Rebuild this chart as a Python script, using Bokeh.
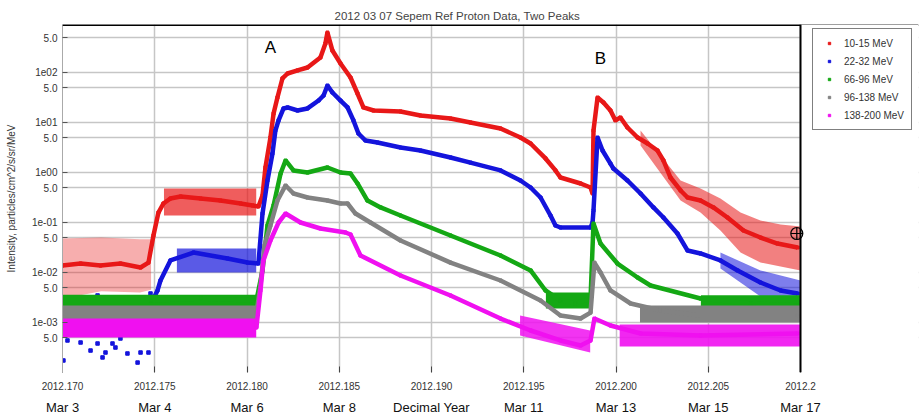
from bokeh.plotting import figure
from bokeh.models import (Range1d, FixedTicker, LinearAxis, Legend, LegendItem, Title,
                          Span, BoxAnnotation)
from bokeh.core.properties import value
from bokeh.embed import file_html
from bokeh.resources import INLINE

FONT = "Liberation Sans"

# ---------------- data (decimal year, intensity) ----------------
t_red = [2012.17000, 2012.17098, 2012.17206, 2012.17314, 2012.17423, 2012.17466, 2012.17493,
         2012.17520, 2012.17547, 2012.17585, 2012.17640, 2012.17748, 2012.17856, 2012.17965,
         2012.18030, 2012.18062, 2012.18084, 2012.18100, 2012.18127, 2012.18144, 2012.18165,
         2012.18192, 2012.18220, 2012.18274, 2012.18328, 2012.18398, 2012.18425, 2012.18436,
         2012.18463, 2012.18507, 2012.18561, 2012.18599, 2012.18631, 2012.18686, 2012.18832,
         2012.18940, 2012.19103, 2012.19211, 2012.19374, 2012.19482, 2012.19537, 2012.19618,
         2012.19672, 2012.19699, 2012.19808, 2012.19862, 2012.19873, 2012.19878, 2012.19900,
         2012.19932, 2012.19970, 2012.19997, 2012.20024, 2012.20062, 2012.20117, 2012.20171,
         2012.20225, 2012.20257, 2012.20295, 2012.20350, 2012.20388, 2012.20458, 2012.20528,
         2012.20604, 2012.20691, 2012.20783, 2012.20875, 2012.20984]
v_red = [0.0138, 0.0151, 0.0138, 0.0151, 0.0126, 0.0158, 0.055,
         0.158, 0.240, 0.302, 0.331, 0.302, 0.275, 0.240,
         0.219, 0.209, 0.347, 1.26, 5.01, 15.1, 31.6,
         75.9, 95.5, 110, 126, 200, 380, 631,
         275, 151, 79.4, 38.0, 20.0, 17.4, 16.6,
         13.8, 12.0, 10.0, 7.59, 5.01, 3.80, 1.91,
         1.10, 0.794, 0.603, 0.501, 0.380, 6.92, 31.6,
         25.1, 17.4, 11.0, 12.6, 7.94, 5.01, 3.80,
         2.75, 1.74, 0.794, 0.437, 0.316, 0.275, 0.200,
         0.126, 0.0692, 0.0501, 0.0380, 0.0316]

t_blue = [2012.17000, 2012.17450, 2012.17488, 2012.17515, 2012.17531, 2012.17585, 2012.17710,
          2012.17894, 2012.18003, 2012.18062, 2012.18084, 2012.18111, 2012.18138, 2012.18154,
          2012.18171, 2012.18198, 2012.18220, 2012.18274, 2012.18328, 2012.18388, 2012.18415,
          2012.18436, 2012.18463, 2012.18507, 2012.18545, 2012.18577, 2012.18604, 2012.18642,
          2012.18707, 2012.18832, 2012.18940, 2012.19103, 2012.19211, 2012.19374, 2012.19482,
          2012.19537, 2012.19591, 2012.19645, 2012.19672, 2012.19699, 2012.19862, 2012.19873,
          2012.19878, 2012.19900, 2012.19927, 2012.19970, 2012.19986, 2012.20062, 2012.20133,
          2012.20203, 2012.20257, 2012.20333, 2012.20388, 2012.20458, 2012.20566, 2012.20659,
          2012.20783, 2012.20892, 2012.20984]
v_blue = [0.00100, 0.00100, 0.00275, 0.00437, 0.00692, 0.0174, 0.0251,
          0.0191, 0.0158, 0.0151, 0.151, 0.692, 2.40, 6.92,
          11.0, 19.1, 20.0, 17.4, 19.1, 27.5, 34.7,
          55.0, 39.8, 27.5, 20.0, 11.0, 6.03, 4.37,
          3.98, 3.16, 2.75, 2.00, 1.58, 1.10, 0.692,
          0.501, 0.316, 0.138, 0.0871, 0.0794, 0.0794, 0.100,
          0.174, 5.01, 2.75, 1.51, 1.20, 0.692, 0.380,
          0.200, 0.126, 0.0603, 0.0275, 0.0240, 0.0174, 0.0110,
          0.00631, 0.00437, 0.00380]

t_green = [2012.17000, 2012.17477, 2012.17748, 2012.18051, 2012.18084, 2012.18111, 2012.18144,
           2012.18182, 2012.18209, 2012.18252, 2012.18328, 2012.18436, 2012.18507, 2012.18561,
           2012.18599, 2012.18653, 2012.18724, 2012.18832, 2012.19103, 2012.19374, 2012.19537,
           2012.19618, 2012.19699, 2012.19780, 2012.19862, 2012.19878, 2012.19916, 2012.20008,
           2012.20117, 2012.20187, 2012.20458, 2012.20729, 2012.20984]
v_green = [0.00275, 0.00275, 0.00302, 0.00275, 0.0110, 0.0871, 0.219,
           0.955, 1.74, 1.10, 1.00, 1.26, 1.00, 0.955,
           0.603, 0.275, 0.200, 0.138, 0.0550, 0.0219, 0.0110,
           0.00437, 0.00275, 0.00240, 0.00302, 0.0955, 0.0380, 0.0151,
           0.00794, 0.00550, 0.00302, 0.00240, 0.00219]

t_gray = [2012.17000, 2012.18051, 2012.18073, 2012.18095, 2012.18127, 2012.18165, 2012.18209,
          2012.18252, 2012.18328, 2012.18436, 2012.18507, 2012.18545, 2012.18588, 2012.18669,
          2012.18832, 2012.19103, 2012.19374, 2012.19591, 2012.19699, 2012.19808, 2012.19862,
          2012.19883, 2012.19916, 2012.19970, 2012.20079, 2012.20241, 2012.20458, 2012.20984]
v_gray = [0.00151, 0.00151, 0.00550, 0.0347, 0.0871, 0.275, 0.550,
          0.380, 0.316, 0.275, 0.240, 0.240, 0.151, 0.100,
          0.0437, 0.0158, 0.00692, 0.00275, 0.00138, 0.00120, 0.00158,
          0.0158, 0.0100, 0.00437, 0.00240, 0.00174, 0.00138, 0.00138]

t_mag = [2012.17000, 2012.18051, 2012.18073, 2012.18089, 2012.18127, 2012.18171, 2012.18209,
         2012.18290, 2012.18398, 2012.18534, 2012.18561, 2012.18615, 2012.18832, 2012.19103,
         2012.19374, 2012.19537, 2012.19699, 2012.19808, 2012.19862, 2012.19883, 2012.19970,
         2012.20133, 2012.20458, 2012.20984]
v_mag = [0.000794, 0.000794, 0.00437, 0.0174, 0.0437, 0.100, 0.151,
         0.100, 0.0759, 0.0631, 0.0575, 0.0219, 0.00871, 0.00347,
         0.00120, 0.000692, 0.000437, 0.000347, 0.000437, 0.00120, 0.000871,
         0.000603, 0.000550, 0.000603]

# noise envelopes (scatter spread)
red_pre_t = [2012.1700, 2012.1721, 2012.1742, 2012.1748]
red_pre_hi = [0.048, 0.050, 0.046, 0.046]
red_pre_lo = [0.0030, 0.0042, 0.0040, 0.0045]
red_plat_t = [2012.1755, 2012.1805]
red_plat_hi = [0.479, 0.479]
red_plat_lo = [0.138, 0.138]
red_tail_t = [2012.20133, 2012.20350, 2012.20458, 2012.20566, 2012.20675, 2012.20783, 2012.20892, 2012.21000]
red_tail_hi = [6.92, 0.692, 0.479, 0.302, 0.158, 0.110, 0.0912, 0.0832]
red_tail_lo = [3.47, 0.275, 0.158, 0.0692, 0.0251, 0.0158, 0.0132, 0.0110]

blue_plat_t = [2012.1762, 2012.1805]
blue_plat_hi = [0.0302, 0.0302]
blue_plat_lo = [0.0100, 0.0100]
blue_tail_t = [2012.20566, 2012.20783, 2012.21000]
blue_tail_hi = [0.0251, 0.0110, 0.00692]
blue_tail_lo = [0.0120, 0.00331, 0.00219]
blue_dots_t = [2012.17005, 2012.17027, 2012.17098, 2012.17152, 2012.17190, 2012.17190, 2012.17217,
               2012.17233, 2012.17271, 2012.17287, 2012.17352, 2012.17407, 2012.17423, 2012.17466,
               2012.17477, 2012.17070, 2012.17314]
blue_dots_v = [0.000174, 0.000437, 0.000398, 0.000275, 0.000380, 0.00347, 0.000200,
               0.000251, 0.000380, 0.000316, 0.000240, 0.000158, 0.000251, 0.000251,
               0.00380, 0.000692, 0.000479]

green_pre_t = [2012.1700, 2012.1805]
green_pre_hi = [0.0036, 0.0036]
green_pre_lo = [0.0021, 0.0021]
green_preb_t = [2012.1962, 2012.1986]
green_preb_hi = [0.0040, 0.0040]
green_preb_lo = [0.0019, 0.0019]
green_tail_t = [2012.2046, 2012.2100]
green_tail_hi = [0.0035, 0.0035]
green_tail_lo = [0.0019, 0.0019]

gray_pre_t = [2012.1700, 2012.1805]
gray_pre_hi = [0.0022, 0.0022]
gray_pre_lo = [0.00105, 0.00105]
gray_tail_t = [2012.2013, 2012.2100]
gray_tail_hi = [0.0022, 0.0022]
gray_tail_lo = [0.00100, 0.00100]

mag_pre_t = [2012.1700, 2012.1805]
mag_pre_hi = [0.00120, 0.00120]
mag_pre_lo = [0.00050, 0.00050]
mag_preb_t = [2012.1948, 2012.1986]
mag_preb_hi = [0.00138, 0.00069]
mag_preb_lo = [0.00055, 0.00025]
mag_tail_t = [2012.2002, 2012.2100]
mag_tail_hi = [0.00091, 0.00091]
mag_tail_lo = [0.00033, 0.00033]

labels = ["10-15 MeV", "22-32 MeV", "66-96 MeV", "96-138 MeV", "138-200 MeV"]
colors = ["#e81818", "#1414dc", "#14a814", "#828282", "#f010f0"]

x_start, x_end = 2012.170, 2012.210
x_ticks = [2012.170, 2012.175, 2012.180, 2012.185, 2012.190, 2012.195, 2012.200, 2012.205, 2012.210]
x_labels = ["2012.170", "2012.175", "2012.180", "2012.185", "2012.190", "2012.195",
            "2012.200", "2012.205", "2012.2"]
date_labels = ["Mar 3", "Mar 4", "Mar 6", "Mar 8", "Decimal Year", "Mar 11", "Mar 13",
               "Mar 15", "Mar 17"]
y_ticks = [500.0, 100.0, 50.0, 10.0, 5.0, 1.0, 0.5, 0.1, 0.05, 0.01, 0.005, 0.001, 0.0005]
y_labels = ["5.0", "1e02", "5.0", "1e01", "5.0", "1e00", "5.0", "1e-01", "5.0", "1e-02",
            "5.0", "1e-03", "5.0"]
y_top = 912.0

peak_x = [2012.18127, 2012.19916]
peak_y = [316.0, 190.0]
peak_text = ["A", "B"]
mark_x = [2012.2098]
mark_y = [0.0603]

# ---------------- figure ----------------
# frame spans the whole width; the area right of x_end is blanked and hosts the legend
FRAME_L, FRAME_R, PX_DATA = 62, 918, 738
span_extra = (x_end - x_start) * (FRAME_R - FRAME_L) / PX_DATA
p = figure(width=920, height=419, title=None,
           x_range=Range1d(x_start, x_start + span_extra), y_range=Range1d(1e-4, y_top),
           y_axis_type="log", output_backend="svg", toolbar_location=None,
           min_border_left=62, min_border_right=2, min_border_top=24, min_border_bottom=47)
p.outline_line_color = None
p.background_fill_color = "white"
p.border_fill_color = "white"

p.xgrid.ticker = FixedTicker(ticks=x_ticks)
p.ygrid.ticker = FixedTicker(ticks=y_ticks)
for g in (p.xgrid[0], p.ygrid[0]):
    g.grid_line_color = "#c6c6c6"
    g.grid_line_width = 1.5
    g.grid_line_alpha = 1.0

# left axis
ya = p.yaxis[0]
ya.ticker = FixedTicker(ticks=y_ticks)
ya.major_label_overrides = dict(zip(y_ticks, y_labels))
ya.minor_tick_line_color = None
ya.major_tick_in = 5
ya.major_tick_out = 0
ya.major_tick_line_color = "#555555"
ya.axis_line_color = "#aaaaaa"
ya.major_label_text_font = FONT
ya.major_label_text_font_size = "10px"
ya.major_label_text_color = "#333333"
ya.major_label_standoff = 5
ya.axis_label = "Intensity, particles/cm^2/s/sr/MeV"
ya.axis_label_text_font = FONT
ya.axis_label_text_font_size = "10px"
ya.axis_label_text_font_style = "normal"
ya.axis_label_text_color = "#333333"
ya.axis_label_standoff = 12

# bottom axis (decimal year)
xa = p.xaxis[0]
xa.ticker = FixedTicker(ticks=x_ticks)
xa.major_label_overrides = dict(zip(x_ticks, x_labels))
xa.minor_tick_line_color = None
xa.major_tick_in = 6
xa.major_tick_out = 0
xa.major_tick_line_color = "#444444"
xa.axis_line_color = None
xa.major_label_text_font = FONT
xa.major_label_text_font_size = "10px"
xa.major_label_text_color = "#333333"
xa.major_label_standoff = 9

# second bottom axis (dates, with the axis title in the free slot)
xa2 = LinearAxis(ticker=FixedTicker(ticks=x_ticks),
                 major_label_overrides=dict(zip(x_ticks, date_labels)),
                 major_tick_line_color=None, minor_tick_line_color=None,
                 axis_line_color=None, major_label_standoff=1,
                 major_label_text_font=FONT, major_label_text_font_size="13px",
                 major_label_text_color="#111111")
p.add_layout(xa2, "below")

p.add_layout(Title(text="2012 03 07 Sepem Ref Proton Data, Two Peaks", align="left",
                   offset=272, text_font=FONT, text_font_size="11.5px",
                   text_font_style="normal", text_color="#444444", standoff=6), "above")

# ---------------- series ----------------
bands = [
    [(red_pre_t, red_pre_lo, red_pre_hi, 0.35), (red_plat_t, red_plat_lo, red_plat_hi, 0.7),
     (red_tail_t, red_tail_lo, red_tail_hi, 0.55)],
    [(blue_plat_t, blue_plat_lo, blue_plat_hi, 0.7), (blue_tail_t, blue_tail_lo, blue_tail_hi, 0.55)],
    [(green_pre_t, green_pre_lo, green_pre_hi, 1.0), (green_preb_t, green_preb_lo, green_preb_hi, 1.0),
     (green_tail_t, green_tail_lo, green_tail_hi, 1.0)],
    [(gray_pre_t, gray_pre_lo, gray_pre_hi, 1.0), (gray_tail_t, gray_tail_lo, gray_tail_hi, 1.0)],
    [(mag_pre_t, mag_pre_lo, mag_pre_hi, 1.0), (mag_preb_t, mag_preb_lo, mag_preb_hi, 0.85),
     (mag_tail_t, mag_tail_lo, mag_tail_hi, 0.9)],
]
series = [(t_red, v_red), (t_blue, v_blue), (t_green, v_green), (t_gray, v_gray), (t_mag, v_mag)]

items = []
for i, ((t, v), c, lab) in enumerate(zip(series, colors, labels)):
    for bt, blo, bhi, a in bands[i]:
        p.varea(x=bt, y1=blo, y2=bhi, fill_color=c, fill_alpha=a)
    if i == 1:
        p.scatter(blue_dots_t, blue_dots_v, marker="square", size=3.5, color=c)
    p.line(t, v, line_color=c, line_width=4.5)
    r = p.scatter(t, v, marker="square", size=3, color=c)
    items.append(LegendItem(label=lab, renderers=[r]))

p.text(x=peak_x, y=peak_y, text=peak_text, text_font=value(FONT), text_font_size="17px",
       text_align="center", text_baseline="middle", text_color="black")

# frame borders: top (black) and right (black), blank area beyond x_end
p.add_layout(Span(location=y_top, dimension="width", line_color="black", line_width=3))
p.add_layout(BoxAnnotation(left=x_end, fill_color="white", fill_alpha=1.0, line_color=None))
p.add_layout(Span(location=x_end, dimension="height", line_color="black", line_width=2))

p.scatter(mark_x, mark_y, marker="circle_cross", size=12, fill_color=None,
          line_color="black", line_width=1.2, level="overlay")

legend = Legend(items=items, location=(750, 242), border_line_color="black",
                border_line_width=1.2, padding=7, spacing=4, margin=0,
                label_text_font=FONT, label_text_font_size="10px",
                label_text_color="#333333", glyph_width=18, glyph_height=6,
                label_height=14, label_standoff=6, background_fill_color="white")
p.add_layout(legend)

open("out.html", "w").write(file_html(p, INLINE))
